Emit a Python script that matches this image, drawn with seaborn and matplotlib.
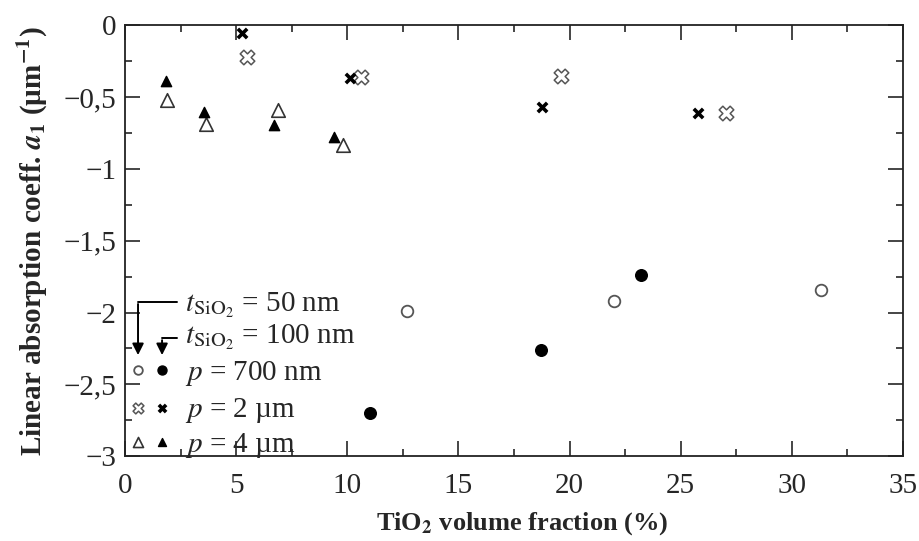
import matplotlib
matplotlib.use("Agg")
import matplotlib.pyplot as plt
import numpy as np
import pandas as pd
import seaborn as sns
from matplotlib.ticker import MultipleLocator, FuncFormatter

# data (TiO2 volume fraction %, a1 in um^-1)
frac_700_50 = [12.7, 22.0, 31.3]
a1_700_50 = [-1.99, -1.92, -1.84]
frac_700_100 = [11.0, 18.7, 23.2]
a1_700_100 = [-2.70, -2.26, -1.74]

frac_2_50 = [5.5, 10.6, 19.6, 27.05]
a1_2_50 = [-0.22, -0.36, -0.35, -0.61]
frac_2_100 = [5.28, 10.1, 18.77, 25.76]
a1_2_100 = [-0.055, -0.365, -0.57, -0.61]

frac_4_50 = [1.9, 3.65, 6.9, 9.8]
a1_4_50 = [-0.52, -0.69, -0.59, -0.835]
frac_4_100 = [1.85, 3.55, 6.7, 9.4]
a1_4_100 = [-0.39, -0.605, -0.695, -0.78]

rows = []
for p, t, xs, ys in [("700 nm", 50, frac_700_50, a1_700_50),
                     ("700 nm", 100, frac_700_100, a1_700_100),
                     ("2 um", 50, frac_2_50, a1_2_50),
                     ("2 um", 100, frac_2_100, a1_2_100),
                     ("4 um", 50, frac_4_50, a1_4_50),
                     ("4 um", 100, frac_4_100, a1_4_100)]:
    for x, y in zip(xs, ys):
        rows.append({"frac": x, "a1": y, "period": p, "t": t})
df = pd.DataFrame(rows)

sns.set_style("ticks")
plt.rcParams["font.family"] = ["Liberation Serif", "DejaVu Serif"]
plt.rcParams["mathtext.fontset"] = "stix"

fig = plt.figure(figsize=(9.2, 5.41), dpi=100)
ax = fig.add_axes([0.1359, 0.157, 0.8456, 0.796])

gray = "#555555"
styles = {
    ("700 nm", 50): dict(marker="o", s=70, facecolor="white", edgecolor=gray, linewidth=1.3),
    ("700 nm", 100): dict(marker="o", s=70, facecolor="black", edgecolor="black", linewidth=1),
    ("2 um", 50): dict(marker="X", s=110, facecolor="white", edgecolor=gray, linewidth=1.1),
    ("2 um", 100): dict(marker="x", s=45, color="black", linewidth=2.6),
    ("4 um", 50): dict(marker="^", s=95, facecolor="white", edgecolor="#333333", linewidth=1.2),
    ("4 um", 100): dict(marker="^", s=55, facecolor="black", edgecolor="black", linewidth=1),
}
for key, st in styles.items():
    sub = df[(df["period"] == key[0]) & (df["t"] == key[1])]
    sns.scatterplot(data=sub, x="frac", y="a1", ax=ax, legend=False, zorder=3, **st)

ax.set_xlim(0, 35)
ax.set_ylim(-3, 0)
ax.xaxis.set_major_locator(MultipleLocator(5))
ax.xaxis.set_minor_locator(MultipleLocator(2.5))
ax.yaxis.set_major_locator(MultipleLocator(0.5))
ax.yaxis.set_minor_locator(MultipleLocator(0.25))


def comma_fmt(v, pos):
    s = ("%g" % abs(v)).replace(".", ",")
    return ("\u2212" + s) if v < 0 else s


ax.yaxis.set_major_formatter(FuncFormatter(comma_fmt))
ax.tick_params(which="both", direction="in", top=True, right=True, labelsize=21, width=1.2)
ax.tick_params(axis="x", pad=12.5)
ax.tick_params(axis="y", pad=6)
ax.tick_params(which="major", length=11)
ax.tick_params(which="minor", length=5)
for sp in ax.spines.values():
    sp.set_linewidth(1.3)
    sp.set_color("#222222")

ax.set_xlabel(r"TiO$_\mathbf{2}$ volume fraction (%)", fontsize=19, fontweight="bold", labelpad=7)
ax.xaxis.set_label_coords(0.51, -0.125)
ax.set_ylabel(r"Linear absorption coeff. $\mathbfit{a}_\mathbf{1}$ (µm$^\mathbf{-1}$)",
              fontsize=21, fontweight="bold", labelpad=10)

# hand-made legend in axes coordinates
tr = ax.transAxes
mx_open, mx_fill, tx = 0.0167, 0.0476, 0.077
legend_rows = [(0.200, 0.1765, "700 nm", "700 nm"),
               (0.111, 0.0906, "2 µm", "2 um"),
               (0.033, 0.0093, "4 µm", "4 um")]
for ym, yb, lab, per in legend_rows:
    so = dict(styles[(per, 50)])
    sf = dict(styles[(per, 100)])
    so["s"] = so["s"] * 0.55
    sf["s"] = sf["s"] * 0.6
    ax.scatter([mx_open], [ym], transform=tr, clip_on=False, zorder=4, **so)
    ax.scatter([mx_fill], [ym], transform=tr, clip_on=False, zorder=4, **sf)
    ax.text(tx, yb, r"$p$ = " + lab, transform=tr, fontsize=21, va="baseline", ha="left")

ax.text(tx, 0.3368, r"$t_{\mathrm{SiO_2}}$ = 50 nm", transform=tr, fontsize=21, va="baseline", ha="left")
ax.text(tx, 0.2625, r"$t_{\mathrm{SiO_2}}$ = 100 nm", transform=tr, fontsize=21, va="baseline", ha="left")
ax.plot([0.067, mx_open], [0.358, 0.358], transform=tr, color="black", lw=1.4)
ax.annotate("", xy=(mx_open, 0.228), xytext=(mx_open, 0.3595), xycoords=tr, textcoords=tr,
            arrowprops=dict(arrowstyle="-|>", color="black", lw=1.4, mutation_scale=17))
ax.plot([0.067, mx_fill], [0.274, 0.274], transform=tr, color="black", lw=1.4)
ax.annotate("", xy=(mx_fill, 0.228), xytext=(mx_fill, 0.2755), xycoords=tr, textcoords=tr,
            arrowprops=dict(arrowstyle="-|>", color="black", lw=1.4, mutation_scale=17))

fig.savefig("out.png", dpi=100)
